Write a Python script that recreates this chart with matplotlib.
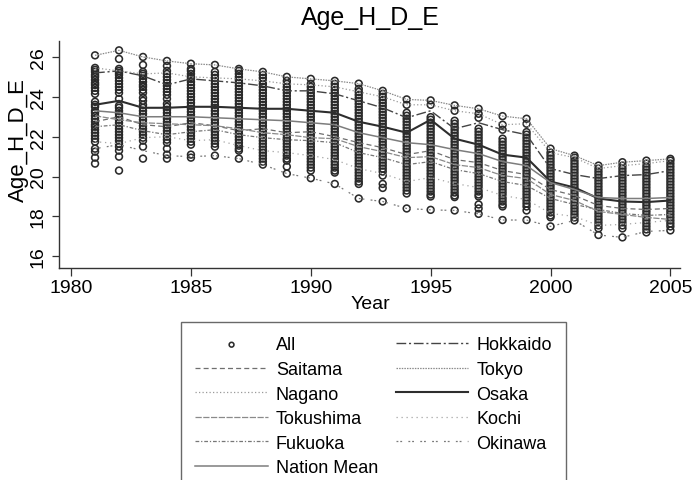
import matplotlib
matplotlib.use("Agg")
import matplotlib.pyplot as plt

plt.rcParams['font.family'] = ['Liberation Sans', 'DejaVu Sans']

years = [1981, 1982, 1983, 1984, 1985, 1986, 1987, 1988, 1989, 1990, 1991, 1992, 1993,
         1994, 1995, 1996, 1997, 1998, 1999, 2000, 2001, 2002, 2003, 2004, 2005]

# all prefectures, one column of circles per year
all_1981 = [26.08, 25.45, 25.35, 25.25, 25.1, 25.0, 24.85, 24.7, 24.6, 24.45, 24.3, 24.15, 23.75, 23.6, 23.5,
            23.3, 23.2, 23.05, 22.9, 22.75, 22.6, 22.5, 22.35, 22.2, 22.05, 21.9, 21.75, 21.4, 21.25, 20.95, 20.65]
all_1982 = [26.33, 25.9, 25.4, 25.3, 25.2, 25.1, 24.95, 24.8, 24.65, 24.5, 24.35, 24.2, 23.9, 23.55, 23.45, 23.3,
            23.15, 23.0, 22.85, 22.7, 22.55, 22.4, 22.25, 22.1, 21.95, 21.8, 21.65, 21.5, 21.3, 21.0, 20.3]
all_1983 = [26.0, 25.6, 25.25, 25.15, 25.05, 24.9, 24.75, 24.6, 24.5, 24.35, 24.2, 23.95, 23.8, 23.6, 23.45, 23.3,
            23.15, 23.0, 22.85, 22.7, 22.55, 22.4, 22.25, 22.1, 21.95, 21.8, 21.5, 20.9]
all_1984 = [25.8, 25.55, 25.3, 25.15, 25.0, 24.85, 24.7, 24.55, 24.4, 24.25, 24.1, 23.9, 23.65, 23.5, 23.35, 23.2,
            23.05, 22.9, 22.75, 22.6, 22.45, 22.3, 22.15, 22.0, 21.85, 21.7, 21.4, 21.1, 20.9]
all_1985 = [25.66, 25.4, 25.3, 25.15, 25.0, 24.9, 24.75, 24.6, 24.45, 24.3, 24.15, 24.0, 23.85, 23.7, 23.55, 23.4,
            23.25, 23.1, 22.95, 22.8, 22.65, 22.5, 22.35, 22.2, 22.05, 21.9, 21.75, 21.6, 21.1, 20.95]
all_1986 = [25.6, 25.25, 25.1, 24.95, 24.8, 24.65, 24.5, 24.35, 24.2, 24.05, 23.9, 23.75, 23.6, 23.45, 23.3, 23.15,
            23.0, 22.85, 22.7, 22.55, 22.4, 22.25, 22.1, 21.95, 21.8, 21.65, 21.5, 21.05]
all_1987 = [25.4, 25.3, 25.15, 25.0, 24.85, 24.7, 24.55, 24.4, 24.25, 24.1, 23.95, 23.8, 23.65, 23.5, 23.35, 23.2,
            23.05, 22.9, 22.75, 22.6, 22.45, 22.3, 22.15, 22.0, 21.85, 21.7, 21.55, 21.4, 21.3, 20.9]
all_1988 = [25.25, 25.1, 24.95, 24.8, 24.65, 24.5, 24.35, 24.2, 24.05, 23.9, 23.75, 23.6, 23.45, 23.3, 23.15, 23.0,
            22.85, 22.7, 22.55, 22.4, 22.25, 22.1, 21.95, 21.8, 21.65, 21.5, 21.35, 21.2, 21.05, 20.9, 20.75, 20.6]
all_1989 = [25.0, 24.8, 24.65, 24.5, 24.35, 24.2, 24.05, 23.9, 23.75, 23.6, 23.45, 23.3, 23.15, 23.0, 22.85, 22.7,
            22.55, 22.4, 22.25, 22.1, 21.95, 21.8, 21.65, 21.5, 21.35, 21.2, 21.05, 20.9, 20.8, 20.5, 20.15]
all_1990 = [24.9, 24.65, 24.5, 24.35, 24.2, 24.05, 23.9, 23.75, 23.6, 23.45, 23.3, 23.15, 23.0, 22.85, 22.7, 22.55,
            22.4, 22.25, 22.1, 21.95, 21.8, 21.65, 21.5, 21.35, 21.2, 21.05, 20.9, 20.75, 20.6, 20.45, 20.3, 19.92]
all_1991 = [24.8, 24.65, 24.5, 24.35, 24.2, 24.05, 23.9, 23.75, 23.6, 23.45, 23.3, 23.15, 23.0, 22.85, 22.7, 22.55,
            22.4, 22.25, 22.1, 21.95, 21.8, 21.65, 21.5, 21.35, 21.2, 21.05, 20.9, 20.75, 20.6, 20.45, 20.3, 20.2,
            19.63]
all_1992 = [24.66, 24.4, 24.25, 24.1, 23.95, 23.8, 23.65, 23.5, 23.35, 23.2, 23.05, 22.9, 22.75, 22.6, 22.45, 22.3,
            22.15, 22.0, 21.85, 21.7, 21.55, 21.4, 21.25, 21.1, 20.95, 20.8, 20.65, 20.5, 20.35, 20.2, 20.05, 19.9,
            19.75, 19.63, 18.9]
all_1993 = [24.3, 24.15, 24.0, 23.85, 23.7, 23.55, 23.4, 23.25, 23.1, 22.95, 22.8, 22.65, 22.5, 22.35, 22.2, 22.05,
            21.9, 21.75, 21.6, 21.45, 21.3, 21.15, 21.0, 20.85, 20.7, 20.55, 20.4, 20.25, 20.05, 19.63, 19.43, 18.75]
all_1994 = [23.87, 23.6, 23.2, 23.05, 22.9, 22.75, 22.6, 22.45, 22.3, 22.15, 22.0, 21.85, 21.7, 21.55, 21.4, 21.25,
            21.1, 20.95, 20.8, 20.65, 20.5, 20.35, 20.2, 20.05, 19.9, 19.75, 19.6, 19.45, 19.3, 19.15, 18.4]
all_1995 = [23.82, 23.6, 22.98, 22.85, 22.7, 22.55, 22.4, 22.25, 22.1, 21.95, 21.8, 21.65, 21.5, 21.35, 21.2, 21.05,
            20.9, 20.75, 20.6, 20.45, 20.3, 20.15, 20.0, 19.85, 19.7, 19.55, 19.4, 19.25, 19.1, 19.0, 18.33]
all_1996 = [23.57, 23.3, 22.8, 22.65, 22.5, 22.35, 22.2, 22.05, 21.9, 21.75, 21.6, 21.45, 21.3, 21.15, 21.0, 20.85,
            20.7, 20.55, 20.4, 20.25, 20.1, 19.95, 19.8, 19.65, 19.5, 19.35, 19.2, 19.05, 18.97, 18.3]
all_1997 = [23.4, 23.15, 22.95, 22.4, 22.25, 22.1, 21.95, 21.8, 21.65, 21.5, 21.35, 21.2, 21.05, 20.9, 20.75, 20.6,
            20.45, 20.3, 20.15, 20.0, 19.85, 19.7, 19.55, 19.4, 19.25, 19.1, 19.0, 18.6, 18.4, 18.13]
all_1998 = [23.03, 22.6, 22.35, 21.9, 21.75, 21.6, 21.45, 21.3, 21.15, 21.0, 20.85, 20.7, 20.55, 20.4, 20.25, 20.1,
            19.95, 19.8, 19.65, 19.5, 19.35, 19.2, 19.05, 18.9, 18.75, 18.6, 18.5, 17.82]
all_1999 = [22.9, 22.65, 22.23, 22.1, 21.95, 21.8, 21.65, 21.5, 21.35, 21.2, 21.05, 20.9, 20.75, 20.6, 20.45, 20.3,
            20.15, 20.0, 19.85, 19.7, 19.55, 19.4, 19.25, 19.1, 18.95, 18.8, 18.65, 18.5, 18.3, 17.82]
all_2000 = [21.4, 21.2, 21.05, 20.9, 20.75, 20.6, 20.45, 20.3, 20.15, 20.0, 19.85, 19.7, 19.55, 19.4, 19.25, 19.1,
            18.95, 18.8, 18.65, 18.5, 18.35, 18.2, 18.05, 17.96, 17.5]
all_2001 = [21.05, 20.95, 20.8, 20.65, 20.5, 20.35, 20.2, 20.05, 19.9, 19.75, 19.6, 19.45, 19.3, 19.15, 19.0, 18.85,
            18.7, 18.55, 18.4, 18.25, 18.1, 17.95, 17.8]
all_2002 = [20.55, 20.4, 20.25, 20.1, 19.95, 19.8, 19.65, 19.5, 19.35, 19.2, 19.05, 18.9, 18.75, 18.6, 18.45, 18.3,
            18.15, 18.0, 17.85, 17.7, 17.55, 17.4, 17.07]
all_2003 = [20.72, 20.55, 20.4, 20.25, 20.1, 19.95, 19.8, 19.65, 19.5, 19.35, 19.2, 19.05, 18.9, 18.75, 18.6, 18.45,
            18.3, 18.15, 18.0, 17.85, 17.7, 17.55, 17.4, 16.95]
all_2004 = [20.8, 20.65, 20.5, 20.35, 20.2, 20.05, 19.9, 19.75, 19.6, 19.45, 19.3, 19.15, 19.0, 18.85, 18.7, 18.55,
            18.4, 18.25, 18.1, 17.95, 17.8, 17.65, 17.5, 17.35, 17.2]
all_2005 = [20.89, 20.8, 20.65, 20.5, 20.35, 20.2, 20.05, 19.9, 19.75, 19.6, 19.45, 19.3, 19.15, 19.0, 18.85, 18.7,
            18.55, 18.4, 18.25, 18.1, 17.95, 17.8, 17.65, 17.5, 17.3]

all_cols = [all_1981, all_1982, all_1983, all_1984, all_1985, all_1986, all_1987, all_1988, all_1989,
            all_1990, all_1991, all_1992, all_1993, all_1994, all_1995, all_1996, all_1997, all_1998,
            all_1999, all_2000, all_2001, all_2002, all_2003, all_2004, all_2005]

# selected prefectures + national mean
hokkaido = [25.2, 25.3, 25.05, 24.6, 24.9, 24.8, 24.7, 24.55, 24.3, 24.3, 24.15, 23.8, 23.45, 22.95, 23.3, 22.4,
            22.7, 22.35, 22.1, 20.4, 20.1, 19.9, 20.05, 20.1, 20.3]
saitama = [22.75, 23.0, 22.6, 22.5, 22.7, 22.55, 22.3, 22.4, 22.2, 22.25, 22.0, 21.7, 21.45, 21.1, 21.3, 20.85,
           20.7, 20.3, 20.1, 19.35, 19.05, 18.55, 18.4, 18.35, 18.4]
tokyo = [26.08, 26.33, 26.0, 25.8, 25.66, 25.6, 25.4, 25.25, 25.0, 24.9, 24.8, 24.66, 24.3, 23.87, 23.82, 23.57,
         23.4, 23.03, 22.9, 21.4, 21.05, 20.55, 20.72, 20.8, 20.89]
nagano = [25.45, 25.3, 25.15, 25.2, 25.0, 24.95, 24.9, 24.8, 24.65, 24.6, 24.5, 24.25, 24.0, 23.6, 23.6, 23.3,
          23.15, 22.6, 22.65, 21.2, 20.95, 20.4, 20.55, 20.65, 20.8]
osaka = [23.6, 23.8, 23.45, 23.45, 23.5, 23.5, 23.45, 23.4, 23.4, 23.3, 23.2, 22.75, 22.5, 22.2, 22.85, 21.9,
         21.6, 21.1, 20.95, 19.75, 19.45, 18.9, 18.75, 18.72, 18.8]
tokushima = [23.05, 22.85, 22.7, 22.65, 22.6, 22.55, 22.4, 22.2, 22.1, 21.95, 21.9, 21.5, 21.25, 20.95, 21.0, 20.6,
             20.45, 20.05, 19.9, 19.1, 18.8, 18.25, 18.1, 17.95, 17.85]
kochi = [21.75, 21.65, 21.95, 22.0, 21.8, 21.85, 21.55, 21.3, 21.2, 21.05, 20.85, 20.4, 20.15, 19.75, 19.95, 19.65,
         19.45, 19.05, 18.85, 18.15, 18.0, 17.55, 17.6, 17.7, 17.8]
fukuoka = [22.5, 22.6, 22.3, 22.1, 22.25, 22.35, 22.1, 21.95, 21.85, 21.8, 21.7, 21.2, 20.95, 20.6, 20.75, 20.35,
           20.15, 19.75, 19.55, 18.9, 18.6, 18.35, 18.15, 18.05, 18.1]
okinawa = [21.4, 21.6, 21.3, 21.05, 21.0, 21.05, 20.9, 20.6, 20.15, 19.92, 19.63, 18.9, 18.75, 18.4, 18.33, 18.3,
           18.13, 17.82, 17.82, 17.5, 17.8, 17.07, 16.95, 17.25, 17.3]
nation_mean = [23.3, 23.2, 23.0, 23.0, 23.0, 22.95, 22.9, 22.85, 22.8, 22.7, 22.6, 22.2, 21.95, 21.7, 21.6, 21.35,
               21.15, 20.75, 20.55, 19.7, 19.35, 18.95, 18.9, 18.9, 18.95]

fig = plt.figure(figsize=(6.93, 4.81), dpi=100)
ax = fig.add_axes([0.0856, 0.4414, 0.8956, 0.4713])

xs, ys = [], []
for yr, col in zip(years, all_cols):
    xs += [yr] * len(col)
    ys += col
h_all = ax.scatter(xs, ys, s=24, facecolors='none', edgecolors='#2a2a2a', linewidths=1.15, zorder=1)

h_hok, = ax.plot(years, hokkaido, color='#444444', lw=1.0, dashes=(7, 2, 1.5, 2))
h_sai, = ax.plot(years, saitama, color='#6f6f6f', lw=0.9, dashes=(4, 2.5))
h_tky, = ax.plot(years, tokyo, color='#8a8a8a', lw=0.9, dashes=(1.2, 0.9))
h_nag, = ax.plot(years, nagano, color='#9a9a9a', lw=0.9, dashes=(1, 1.8))
h_osk, = ax.plot(years, osaka, color='#2e2e2e', lw=1.5)
h_tok, = ax.plot(years, tokushima, color='#8a8a8a', lw=0.9, dashes=(5, 1.2))
h_koc, = ax.plot(years, kochi, color='#a5a5a5', lw=0.9, dashes=(1, 3))
h_fuk, = ax.plot(years, fukuoka, color='#777777', lw=0.9, dashes=(3, 1.5, 1, 1.5))
h_oki, = ax.plot(years, okinawa, color='#7a7a7a', lw=0.9, dashes=(1.5, 1.5, 1.5, 5))
h_nat, = ax.plot(years, nation_mean, color='#7d7d7d', lw=1.1)

ax.set_xlim(1979.51, 2005.4)
ax.set_ylim(15.43, 26.8)
ax.set_xticks([1980, 1985, 1990, 1995, 2000, 2005])
ax.set_yticks([16, 18, 20, 22, 24, 26])
ax.spines['top'].set_visible(False)
ax.spines['right'].set_visible(False)
for sp in ('left', 'bottom'):
    ax.spines[sp].set_color('#333333')
    ax.spines[sp].set_linewidth(1.0)
ax.tick_params(axis='x', length=6, width=0.9, color='#333333', labelsize=14, pad=2)
ax.tick_params(axis='y', length=5, width=0.9, color='#333333', labelsize=14, pad=4)
for lab in ax.get_yticklabels():
    lab.set_rotation(90)
    lab.set_va('center')

fig.text(0.534, 0.962, 'Age_H_D_E', ha='center', va='center', fontsize=18)
fig.text(0.026, 0.709, 'Age_H_D_E', ha='center', va='center', rotation=90, fontsize=16)
fig.text(0.534, 0.366, 'Year', ha='center', va='center', fontsize=14)

handles = [h_all, h_sai, h_nag, h_tok, h_fuk, h_nat, h_hok, h_tky, h_osk, h_koc, h_oki]
labels = ['All', 'Saitama', 'Nagano', 'Tokushima', 'Fukuoka', 'Nation Mean',
          'Hokkaido', 'Tokyo', 'Osaka', 'Kochi', 'Okinawa']
leg = fig.legend(handles, labels, ncol=2, loc='upper left', bbox_to_anchor=(181 / 693, 1 - 323 / 481),
                 borderaxespad=0, fontsize=13, frameon=True, fancybox=False, handlelength=4.0,
                 handletextpad=0.45, columnspacing=1.0, labelspacing=0.42, borderpad=0.8,
                 scatterpoints=1, markerscale=0.7)
leg.get_frame().set_edgecolor('#444444')
leg.get_frame().set_linewidth(1.0)

fig.savefig('out.png', dpi=100)
